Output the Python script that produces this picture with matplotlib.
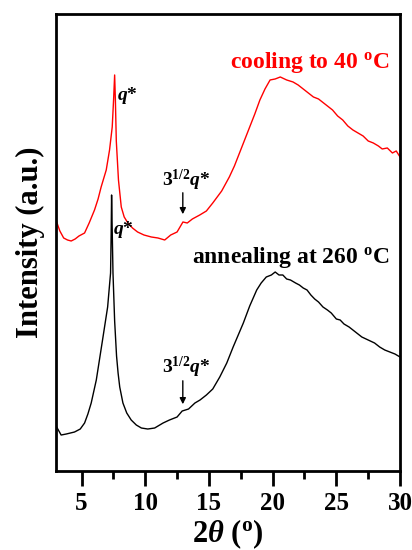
import numpy as np
import matplotlib.pyplot as plt
from matplotlib.ticker import MultipleLocator, NullLocator

plt.rcParams['font.family'] = 'Liberation Serif'
plt.rcParams['font.weight'] = 'bold'
plt.rcParams['axes.labelweight'] = 'bold'
plt.rcParams['mathtext.fontset'] = 'custom'
plt.rcParams['mathtext.rm'] = 'Liberation Serif:bold'
plt.rcParams['mathtext.it'] = 'Liberation Serif:bold:italic'
plt.rcParams['mathtext.bf'] = 'Liberation Serif:bold'

# Cooling to 40 C (red)
two_theta_cool = [3.05, 3.3, 3.6, 3.9, 4.19, 4.5, 4.8, 5.24, 5.6, 6.02, 6.3, 6.54, 6.94,
                  7.2, 7.41, 7.52, 7.6, 7.66, 7.73, 7.9, 8.12, 8.35, 8.64, 9.0, 9.4,
                  9.9, 10.48, 11.0, 11.53, 12.0, 12.5, 12.96, 13.3, 13.7, 14.28, 14.8,
                  15.3, 16.0, 16.6, 17.0, 17.4, 17.8, 18.2, 18.6, 19.0, 19.4, 19.8, 20.2,
                  20.6, 21.1, 21.6, 22.0, 22.4, 22.8, 23.2, 23.6, 24.0, 24.4, 24.7,
                  25.1, 25.5, 25.9, 26.3, 26.7, 27.1, 27.5, 27.9, 28.3, 28.6, 29.0,
                  29.4, 29.7, 30.0]
int_cool = [249, 240, 233, 231, 230, 232, 235, 238, 248, 261, 272, 284, 301,
            321, 344, 372, 396, 370, 330, 291, 264, 254, 248, 243, 239,
            236, 234, 233, 231, 236, 239, 249, 248, 252, 256, 260,
            268, 280, 294, 305, 318, 331, 344, 357, 371, 382, 391, 392,
            394, 391, 389, 386, 382, 378, 374, 372, 368, 364, 361,
            355, 351, 345, 341, 338, 335, 330, 328, 325, 322, 323,
            318, 320, 314]

# Annealing at 260 C (black)
two_theta_anneal = [3.05, 3.4, 3.8, 4.45, 4.9, 5.24, 5.5, 5.76, 6.16, 6.65, 7.05, 7.28,
                    7.33, 7.36, 7.41, 7.47, 7.6, 7.75, 7.87, 8.0, 8.25, 8.55, 8.9, 9.3,
                    9.7, 10.2, 10.74, 11.4, 11.9, 12.5, 12.9, 13.4, 13.9, 14.3, 14.8,
                    15.3, 15.85, 16.4, 16.9, 17.3, 17.7, 18.2, 18.75, 19.1, 19.5, 19.9,
                    20.2, 20.5, 20.8, 21.1, 21.4, 21.8, 22.1, 22.4, 22.7, 23.0, 23.3,
                    23.6, 23.95, 24.3, 24.6, 25.0, 25.3, 25.6, 26.0, 26.3, 26.6, 27.0,
                    27.5, 28.0, 28.4, 28.8, 29.2, 29.6, 30.0]
int_anneal = [44, 36, 37, 39, 42, 48, 57, 68, 91, 131, 164, 198,
              240, 276, 240, 198, 150, 115, 98, 84, 68, 58, 51, 46,
              43, 42, 43, 48, 51, 54, 60, 62, 68, 71, 76,
              82, 94, 108, 124, 136, 148, 165, 181, 188, 194, 196,
              199, 196, 196, 192, 191, 188, 186, 183, 181, 176, 172,
              169, 164, 161, 158, 152, 151, 147, 144, 141, 138, 134,
              131, 128, 124, 121, 119, 117, 114]

fig = plt.figure(figsize=(4.12, 5.5), dpi=100)
ax = fig.add_axes([0.136, 0.1436, 0.835, 0.831])

ax.plot(two_theta_cool, int_cool, color='red', lw=1.0)
ax.plot(two_theta_anneal, int_anneal, color='black', lw=1.0)

ax.set_xlim(3, 30)
ax.set_ylim(0, 457)
ax.xaxis.set_major_locator(MultipleLocator(5))
ax.xaxis.set_minor_locator(MultipleLocator(2.5))
ax.yaxis.set_major_locator(NullLocator())
ax.tick_params(axis='x', which='major', direction='out', length=11, width=2, labelsize=18, pad=4)
ax.tick_params(axis='x', which='minor', direction='out', length=6, width=2)
for s in ax.spines.values():
    s.set_linewidth(2)

ax.set_xlabel(r'2$\theta$ ($^{\rm o}$)', fontsize=22, labelpad=2)
ax.set_ylabel('Intensity (a.u.)', fontsize=22, labelpad=8)

# annotations
ax.text(7.75, 375, r'$q$*', color='black', fontsize=14, ha='left', va='center')
ax.text(7.5, 241, r'$q$*', color='black', fontsize=14, ha='left', va='center')
ax.text(13.2, 291, r'3$^{1/2}$$q$*', color='black', fontsize=14, ha='center', va='center')
ax.text(13.2, 104, r'3$^{1/2}$$q$*', color='black', fontsize=14, ha='center', va='center')
ax.annotate('', xy=(12.95, 254), xytext=(12.95, 281),
            arrowprops=dict(arrowstyle='-|>', color='black', lw=1, mutation_scale=9))
ax.annotate('', xy=(12.95, 64), xytext=(12.95, 93),
            arrowprops=dict(arrowstyle='-|>', color='black', lw=1, mutation_scale=9))
ax.text(29.2, 408, r'cooling to 40 $^{\rm o}$C', color='red', fontsize=17, ha='right', va='center')
ax.text(29.2, 213, r'annealing at 260 $^{\rm o}$C', color='black', fontsize=17, ha='right', va='center')

plt.savefig('out.png', dpi=100)
